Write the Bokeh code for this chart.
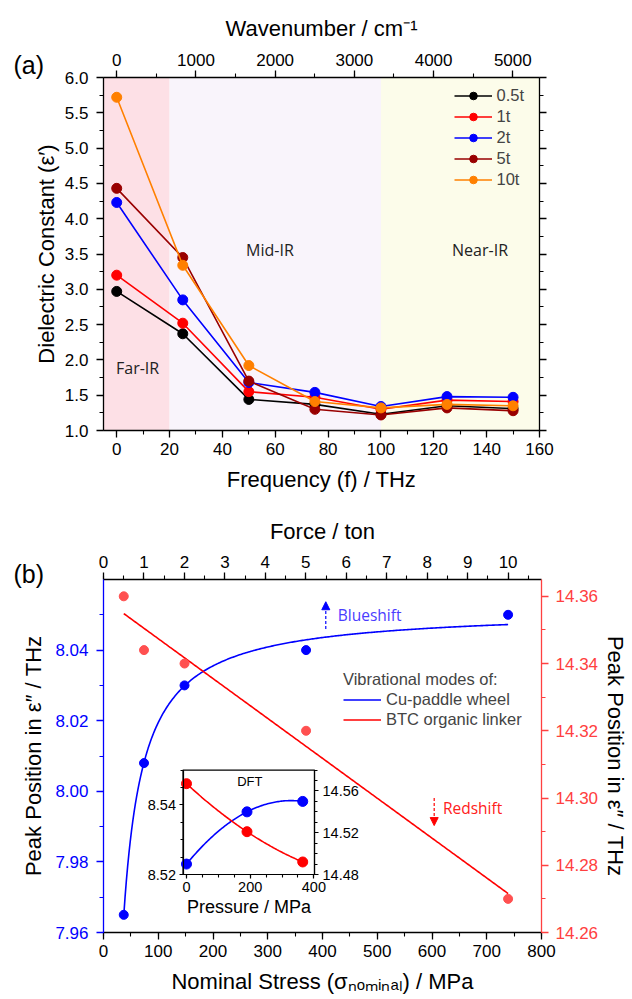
import numpy as np
from bokeh.plotting import figure
from bokeh.models import (Range1d, LinearAxis, SingleIntervalTicker, Legend, LegendItem,
                          Label, Arrow, NormalHead, NumeralTickFormatter, CustomJSTickFormatter)
from bokeh.embed import file_html
from bokeh.resources import INLINE

# ---------------- data : panel (a) ----------------
freq_thz = [0, 25, 50, 75, 100, 125, 150]
series_names = ["0.5t", "1t", "2t", "5t", "10t"]
eps_05t = [2.97, 2.37, 1.44, 1.37, 1.23, 1.35, 1.31]
eps_1t = [3.20, 2.52, 1.55, 1.47, 1.30, 1.43, 1.41]
eps_2t = [4.23, 2.85, 1.68, 1.54, 1.34, 1.48, 1.47]
eps_5t = [4.43, 3.45, 1.70, 1.30, 1.22, 1.32, 1.28]
eps_10t = [5.72, 3.34, 1.92, 1.41, 1.32, 1.37, 1.35]
series_colors = ["#000000", "#ff0000", "#0000ff", "#990000", "#ff8000"]
region_names = ["Far-IR", "Mid-IR", "Near-IR"]
region_start = [-5, 20, 100]
region_end = [20, 100, 160]
region_colors = ["#fde0e6", "#f9f4fb", "#fcfcea"]
THZ_TO_WAVENUMBER = 33.356

# ---------------- data : panel (b) ----------------
force_ton = [0.5, 1, 2, 5, 10]
stress_mpa = [37, 74, 148, 370, 739]
peak_cu = [7.965, 8.008, 8.030, 8.040, 8.050]
peak_btc = [14.360, 14.344, 14.340, 14.320, 14.270]
dft_pressure = [0, 190, 365]
dft_cu = [8.523, 8.538, 8.541]
dft_btc = [14.567, 14.521, 14.492]

FONT = "Liberation Sans"
BLUE = "#0000ff"
RED = "#ff0000"
RED_AX = "#ff4040"

# ---------------- layout (canvas pixels, y from top) ----------------
W, H = 632, 999
A_L, A_R, A_T, A_B = 103, 539, 77, 430          # panel (a) box
B_L, B_R, B_T, B_B = 103, 541, 579, 932          # panel (b) box
I_L, I_R, I_T, I_B = 182.5, 314, 769.6, 874      # inset box


def xr(lo, hi, p0, p1):
    k = (hi - lo) / (p1 - p0)
    return Range1d(lo - p0 * k, lo + (W - p0) * k)


def yr(lo, hi, p_bottom, p_top):
    b, t = H - p_bottom, H - p_top
    k = (hi - lo) / (t - b)
    return Range1d(lo - b * k, lo + (H - b) * k)


def style_axis(ax, color="black", tick="17px", lab="22px", tick_out=7, minor_out=4,
               standoff=8, lab_standoff=8, lw=1.3):
    ax.axis_line_color = color
    ax.axis_line_width = lw
    ax.major_tick_line_color = color
    ax.minor_tick_line_color = color
    ax.major_tick_line_width = lw
    ax.minor_tick_line_width = 1.1
    ax.major_tick_in = 0
    ax.major_tick_out = tick_out
    ax.minor_tick_in = 0
    ax.minor_tick_out = minor_out
    ax.major_label_text_font = FONT
    ax.major_label_text_font_size = tick
    ax.major_label_text_color = color
    ax.major_label_standoff = standoff
    ax.axis_label_text_font = FONT
    ax.axis_label_text_font_size = lab
    ax.axis_label_text_font_style = "normal"
    ax.axis_label_text_color = "black"
    ax.axis_label_standoff = lab_standoff


p = figure(width=W, height=H, x_range=Range1d(0, W), y_range=Range1d(0, H),
           x_axis_location=None, y_axis_location=None, output_backend="svg", toolbar_location=None,
           min_border=0, min_border_left=0, min_border_right=0, min_border_top=0, min_border_bottom=0)
p.outline_line_color = None
for g in p.grid:
    g.visible = False

# ---------------- ranges ----------------
a_x0, a_x1, a_y0, a_y1 = -5, 160, 1.0, 6.0
s_lo, s_hi = 0, 800
cu_lo, cu_hi = 7.96, 8.06
btc_lo, btc_hi = 14.26, 14.365
mpa_per_ton = stress_mpa[-1] / force_ton[-1]
ix_lo, ix_hi = -11, 402
iyl_lo, iyl_hi = 8.52, 8.55
iyr_lo, iyr_hi = 14.48, 14.58

p.extra_x_ranges = {
    "ax": xr(a_x0, a_x1, A_L, A_R),
    "awn": xr(a_x0 * THZ_TO_WAVENUMBER, a_x1 * THZ_TO_WAVENUMBER, A_L, A_R),
    "bx": xr(s_lo, s_hi, B_L, B_R),
    "bf": xr(s_lo / mpa_per_ton, s_hi / mpa_per_ton, B_L, B_R),
    "ix": xr(ix_lo, ix_hi, I_L, I_R),
}
p.extra_y_ranges = {
    "ay": yr(a_y0, a_y1, A_B, A_T),
    "by": yr(cu_lo, cu_hi, B_B, B_T),
    "bred": yr(btc_lo, btc_hi, B_B, B_T),
    "iyl": yr(iyl_lo, iyl_hi, I_B, I_T),
    "iyr": yr(iyr_lo, iyr_hi, I_B, I_T),
}

blank = CustomJSTickFormatter(code="return ''")

# ======================= panel (a) =======================
A = dict(x_range_name="ax", y_range_name="ay")
p.quad(left=region_start, right=region_end, bottom=a_y0, top=a_y1,
       fill_color=region_colors, line_color=None, **A)

label_pos = [(7.9, 1.885), (58, 3.555), (137.5, 3.555)]
for name, (lx, ly) in zip(region_names, label_pos):
    p.add_layout(Label(x=lx, y=ly, text=name, text_align="center", text_baseline="middle",
                       text_font="Open Sans", text_font_size="16px", text_color="#222222", **A))

all_eps = [eps_05t, eps_1t, eps_2t, eps_5t, eps_10t]
items_a = []
for name, ys, col in zip(series_names, all_eps, series_colors):
    ln = p.line(freq_thz, ys, line_color=col, line_width=1.6, **A)
    sc = p.scatter(freq_thz, ys, size=10, marker="circle", fill_color=col, line_color=col, **A)
    items_a.append(LegendItem(label=name, renderers=[ln, sc]))

p.add_layout(Legend(items=items_a, location=(A_L + 350.5, H - (A_B - 241)), padding=0, margin=0,
                    spacing=2, glyph_width=38, glyph_height=19, label_height=19, label_standoff=5,
                    label_text_font=FONT, label_text_font_size="16.5px",
                    background_fill_alpha=0, border_line_color=None))

ax_b = LinearAxis(fixed_location=a_y0, bounds=(a_x0, a_x1), axis_label="Frequency (f) / THz",
                  ticker=SingleIntervalTicker(interval=20, num_minor_ticks=2), **A)
style_axis(ax_b, standoff=5, lab_standoff=9)
p.add_layout(ax_b, "below")

ax_l = LinearAxis(fixed_location=a_x0, bounds=(a_y0, a_y1), axis_label="Dielectric Constant (ε′)",
                  ticker=SingleIntervalTicker(interval=0.5, num_minor_ticks=2),
                  formatter=NumeralTickFormatter(format="0.0"), **A)
style_axis(ax_l, standoff=8, lab_standoff=3)
p.add_layout(ax_l, "left")

ax_r = LinearAxis(fixed_location=a_x1, bounds=(a_y0, a_y1), formatter=blank,
                  ticker=SingleIntervalTicker(interval=0.5, num_minor_ticks=2), **A)
style_axis(ax_r)
p.add_layout(ax_r, "right")

ax_t = LinearAxis(x_range_name="awn", y_range_name="ay", fixed_location=a_y1,
                  bounds=(a_x0 * THZ_TO_WAVENUMBER, a_x1 * THZ_TO_WAVENUMBER),
                  axis_label="Wavenumber / cm⁻¹",
                  ticker=SingleIntervalTicker(interval=1000, num_minor_ticks=2))
style_axis(ax_t, standoff=5, lab_standoff=10)
p.add_layout(ax_t, "above")

p.add_layout(Label(x=13, y=H - 64, text="(a)", text_baseline="middle", text_font=FONT,
                   text_font_size="25px", text_color="black"))

# ======================= panel (b) =======================
B = dict(x_range_name="bx", y_range_name="by")
BR = dict(x_range_name="bx", y_range_name="bred")

sx = np.array(stress_mpa, float)
M = np.vstack([np.ones_like(sx), 1.0 / sx]).T
coef_cu, *_ = np.linalg.lstsq(M, np.array(peak_cu), rcond=None)
xs_fit = np.linspace(sx[0], sx[-1], 300)
cu_fit = coef_cu[0] + coef_cu[1] / xs_fit
btc_fit = np.polyval(np.polyfit(sx, peak_btc, 1), xs_fit)

blue_fit = p.line(xs_fit, cu_fit, line_color=BLUE, line_width=1.6, **B)
red_fit = p.line(xs_fit, btc_fit, line_color=RED, line_width=1.6, **BR)
p.scatter(stress_mpa, peak_cu, size=9, marker="circle", fill_color=BLUE, line_color=BLUE, **B)
p.scatter(stress_mpa, peak_btc, size=9, marker="circle", fill_color="#ff5050", line_color="#ff5050", **BR)

p.add_layout(Arrow(x_start=406, y_start=8.046, x_end=406, y_end=8.0537,
                   line_color=BLUE, line_width=1.2, line_dash="3 2",
                   end=NormalHead(size=8, fill_color=BLUE, line_color=BLUE), **B))
p.add_layout(Label(x=428, y=8.0499, text="Blueshift", text_baseline="middle",
                   text_font="Open Sans", text_font_size="15.5px", text_color="#4a3cff", **B))
p.add_layout(Arrow(x_start=604, y_start=14.300, x_end=604, y_end=14.2918,
                   line_color=RED, line_width=1.2, line_dash="3 2",
                   end=NormalHead(size=8, fill_color=RED, line_color=RED), **BR))
p.add_layout(Label(x=620, y=14.297, text="Redshift", text_baseline="middle",
                   text_font="Open Sans", text_font_size="15.5px", text_color="#ff2020", **BR))

p.add_layout(Legend(items=[LegendItem(label="Cu-paddle wheel", renderers=[blue_fit]),
                           LegendItem(label="BTC organic linker", renderers=[red_fit])],
                    title="Vibrational modes of:", title_text_font=FONT, title_text_font_size="16.5px",
                    title_text_font_style="normal", title_standoff=1,
                    location=(B_L + 240, H - (B_B - 202.8)), padding=0, margin=0, spacing=1,
                    glyph_width=38, glyph_height=19, label_height=19, label_standoff=5,
                    label_text_font=FONT, label_text_font_size="16.5px",
                    background_fill_alpha=0, border_line_color=None))

bx_b = LinearAxis(fixed_location=cu_lo, bounds=(s_lo, s_hi), axis_label="Nominal Stress (σₙₒₘᵢₙₐₗ) / MPa",
                  ticker=SingleIntervalTicker(interval=100, num_minor_ticks=2), **B)
style_axis(bx_b, standoff=5, lab_standoff=9)
p.add_layout(bx_b, "below")

bx_l = LinearAxis(fixed_location=s_lo, bounds=(cu_lo, cu_hi - 0.0001), axis_label="Peak Position in ε″ / THz",
                  ticker=SingleIntervalTicker(interval=0.02, num_minor_ticks=2),
                  formatter=NumeralTickFormatter(format="0.00"), **B)
style_axis(bx_l, color=BLUE, standoff=8, lab_standoff=6)
p.add_layout(bx_l, "left")

bx_r = LinearAxis(fixed_location=s_hi, bounds=(btc_lo, btc_hi), axis_label="Peak Position in ε″ / THz",
                  ticker=SingleIntervalTicker(interval=0.02, num_minor_ticks=2),
                  formatter=NumeralTickFormatter(format="0.00"), **BR)
style_axis(bx_r, color=RED_AX, standoff=7, lab_standoff=2)
p.add_layout(bx_r, "right")

bx_t = LinearAxis(x_range_name="bf", y_range_name="by", fixed_location=cu_hi,
                  bounds=(s_lo / mpa_per_ton, s_hi / mpa_per_ton), axis_label="Force / ton",
                  ticker=SingleIntervalTicker(interval=1, num_minor_ticks=2))
style_axis(bx_t, standoff=5, lab_standoff=9)
p.add_layout(bx_t, "above")

p.add_layout(Label(x=13, y=H - 573, text="(b)", text_baseline="middle", text_font=FONT,
                   text_font_size="25px", text_color="black"))

# ---------------- inset (DFT) ----------------
IL = dict(x_range_name="ix", y_range_name="iyl")
IR = dict(x_range_name="ix", y_range_name="iyr")
p.quad(left=[ix_lo], right=[ix_hi], bottom=[iyl_lo], top=[iyl_hi], fill_color="white",
       line_color="black", line_width=1.2, **IL)
ip = np.linspace(dft_pressure[0], dft_pressure[-1], 100)
p.line(ip, np.polyval(np.polyfit(dft_pressure, dft_cu, 2), ip), line_color=BLUE, line_width=1.6, **IL)
p.line(ip, np.polyval(np.polyfit(dft_pressure, dft_btc, 2), ip), line_color=RED, line_width=1.6, **IR)
p.scatter(dft_pressure, dft_cu, size=10, marker="circle", fill_color=BLUE, line_color=BLUE, **IL)
p.scatter(dft_pressure, dft_btc, size=10, marker="circle", fill_color=RED, line_color=RED, **IR)
p.add_layout(Label(x=199, y=8.5467, text="DFT", text_align="center", text_baseline="middle",
                   text_font=FONT, text_font_size="13px", text_color="black", **IL))

il = LinearAxis(fixed_location=ix_lo, bounds=(iyl_lo, iyl_hi),
                ticker=SingleIntervalTicker(interval=0.02, num_minor_ticks=4),
                formatter=NumeralTickFormatter(format="0.00"), **IL)
style_axis(il, tick="14.5px", tick_out=4, minor_out=3, standoff=3, lw=1.2)
p.add_layout(il, "left")

ir = LinearAxis(fixed_location=ix_hi, bounds=(iyr_lo, iyr_hi),
                ticker=SingleIntervalTicker(interval=0.04, num_minor_ticks=4),
                formatter=NumeralTickFormatter(format="0.00"), **IR)
style_axis(ir, tick="14.5px", tick_out=4, minor_out=3, standoff=4, lw=1.2)
p.add_layout(ir, "right")

ib = LinearAxis(fixed_location=iyl_lo, bounds=(ix_lo, ix_hi), axis_label="Pressure / MPa",
                ticker=SingleIntervalTicker(interval=200, num_minor_ticks=4), **IL)
style_axis(ib, tick="14.5px", lab="18px", tick_out=4, minor_out=3, standoff=3, lab_standoff=2, lw=1.2)
p.add_layout(ib, "below")

open("out.html", "w").write(file_html(p, INLINE))
